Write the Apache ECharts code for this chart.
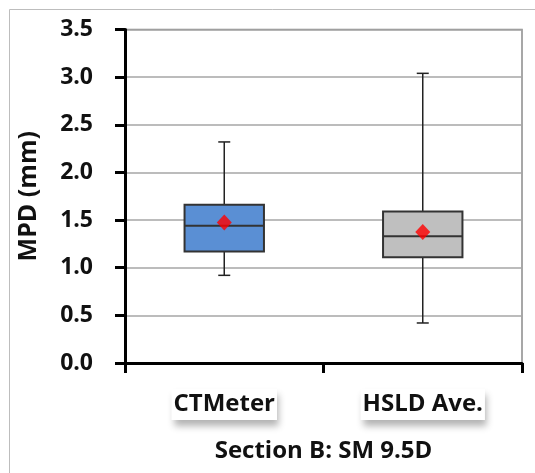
<!DOCTYPE html>
<html>
<head>
<meta charset="utf-8">
<script src="https://cdn.jsdelivr.net/npm/echarts@6/dist/echarts.min.js"></script>
<style>
html, body { margin: 0; padding: 0; background: #fff; }
#chart { width: 535px; height: 473px; }
</style>
</head>
<body>
<div id="chart"></div>
<script>
// Box plot of MPD for two measurement methods
const categories = ['CTMeter', 'HSLD Ave.'];
const whiskerLow = [0.92, 0.42];
const quartile1 = [1.17, 1.11];
const medians = [1.44, 1.33];
const quartile3 = [1.66, 1.59];
const whiskerHigh = [2.32, 3.04];
const means = [1.475, 1.375];
const boxColors = ['#5a8fd4', '#bfbfbf'];
const yTicks = [0, 0.5, 1.0, 1.5, 2.0, 2.5, 3.0, 3.5];

const FONT = '"Open Sans", "Noto Sans", sans-serif';

const boxData = categories.map((c, i) => [i, whiskerLow[i], quartile1[i], medians[i], quartile3[i], whiskerHigh[i]]);
const meanData = categories.map((c, i) => [i, means[i]]);

const chart = echarts.init(document.getElementById('chart'));

function renderBox(params, api) {
  const idx = api.value(0);
  const pLow = api.coord([idx, api.value(1)]);
  const pQ1 = api.coord([idx, api.value(2)]);
  const pMed = api.coord([idx, api.value(3)]);
  const pQ3 = api.coord([idx, api.value(4)]);
  const pHigh = api.coord([idx, api.value(5)]);
  const bandW = api.size([1, 0])[0];
  const boxW = bandW * 0.4;
  const capW = 12;
  const x = pMed[0];
  const stroke = { stroke: '#222', lineWidth: 1.5 };
  return {
    type: 'group',
    children: [
      { type: 'line', shape: { x1: x, y1: pQ3[1], x2: x, y2: pHigh[1] }, style: stroke },
      { type: 'line', shape: { x1: x, y1: pQ1[1], x2: x, y2: pLow[1] }, style: stroke },
      { type: 'line', shape: { x1: x - capW / 2, y1: pHigh[1], x2: x + capW / 2, y2: pHigh[1] }, style: stroke },
      { type: 'line', shape: { x1: x - capW / 2, y1: pLow[1], x2: x + capW / 2, y2: pLow[1] }, style: stroke },
      { type: 'rect', shape: { x: x - boxW / 2, y: pQ3[1], width: boxW, height: pQ1[1] - pQ3[1] },
        style: { fill: boxColors[idx], stroke: '#333', lineWidth: 2 } },
      { type: 'line', shape: { x1: x - boxW / 2, y1: pMed[1], x2: x + boxW / 2, y2: pMed[1] },
        style: { stroke: '#333', lineWidth: 2 } }
    ]
  };
}

chart.setOption({
  backgroundColor: '#fff',
  animation: false,
  graphic: [{
    type: 'rect', left: 7, top: 7, silent: true, z: -10,
    shape: { width: 560, height: 500 },
    style: { fill: 'none', stroke: '#bdbdbd', lineWidth: 1 }
  }],
  grid: { left: 125, right: 13, top: 29.5, bottom: 110, show: true, borderColor: '#8a8a8a', borderWidth: 1.5, backgroundColor: 'transparent' },
  xAxis: {
    type: 'category',
    data: categories,
    boundaryGap: true,
    name: 'Section B: SM 9.5D',
    nameLocation: 'middle',
    nameGap: 76,
    nameTextStyle: { fontFamily: FONT, fontWeight: 'bold', fontSize: 24, color: '#111' },
    axisLine: { lineStyle: { color: '#000', width: 3 } },
    axisTick: { show: true, length: 10, lineStyle: { color: '#000', width: 3 } },
    axisLabel: {
      fontFamily: FONT, fontWeight: 'bold', fontSize: 24, color: '#111',
      margin: 26, lineHeight: 27, padding: [2, 2, 2, 2],
      backgroundColor: '#fff',
      shadowColor: 'rgba(0,0,0,0.3)', shadowBlur: 7, shadowOffsetX: 2, shadowOffsetY: 6
    },
    splitLine: { show: false }
  },
  yAxis: {
    type: 'value',
    min: 0, max: 3.5, interval: 0.5,
    name: 'MPD (mm)',
    nameLocation: 'middle',
    nameGap: 84,
    nameRotate: 90,
    nameTextStyle: { fontFamily: FONT, fontWeight: 'bold', fontSize: 25, color: '#111' },
    axisLine: { show: true, lineStyle: { color: '#000', width: 3 } },
    axisTick: { show: true, length: 10, lineStyle: { color: '#000', width: 3 } },
    axisLabel: {
      fontFamily: FONT, fontWeight: 'bold', fontSize: 23, color: '#111', margin: 32,
      formatter: v => yTicks.includes(+v.toFixed(1)) ? v.toFixed(1) : ''
    },
    splitLine: { lineStyle: { color: '#a6a6a6', width: 1.5 } }
  },
  series: [
    {
      type: 'custom',
      renderItem: renderBox,
      encode: { x: 0, y: [1, 2, 3, 4, 5] },
      data: boxData,
      z: 3
    },
    {
      type: 'scatter',
      data: meanData,
      symbol: 'diamond',
      symbolSize: [15, 16],
      itemStyle: { color: '#ff0000' },
      z: 5
    }
  ]
});
</script>
</body>
</html>
